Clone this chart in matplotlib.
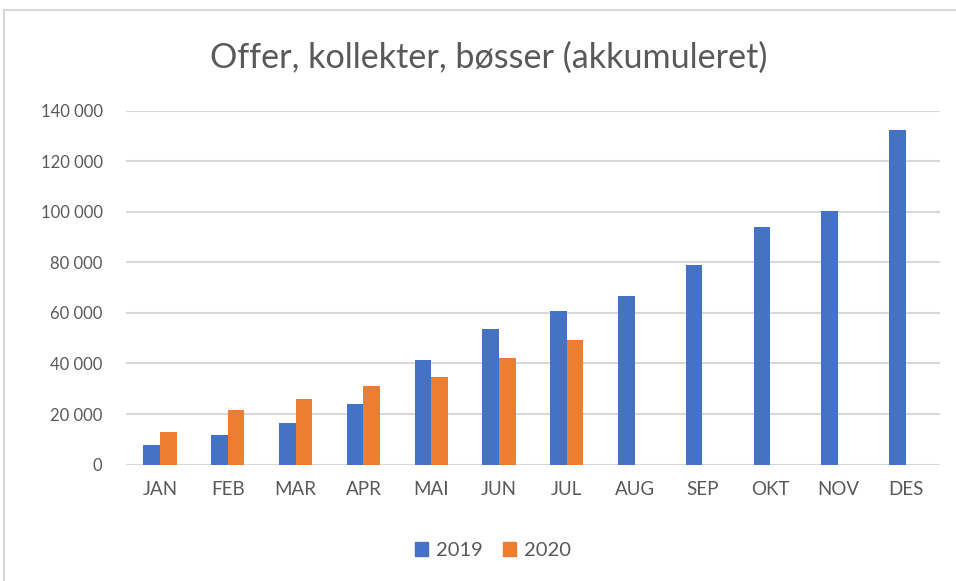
import numpy as np
import matplotlib.pyplot as plt
from matplotlib.lines import Line2D
from matplotlib.patches import Patch

# data
months = ['JAN', 'FEB', 'MAR', 'APR', 'MAI', 'JUN', 'JUL', 'AUG', 'SEP', 'OKT', 'NOV', 'DES']
values_2019 = [7700, 11800, 16300, 24000, 41300, 53600, 60600, 66700, 79000, 93900, 100400, 132600]
values_2020 = [12700, 21400, 26000, 31100, 34600, 42300, 49400]
yticks = [0, 20000, 40000, 60000, 80000, 100000, 120000, 140000]

blue = '#4472C4'
orange = '#ED7D31'
text_col = '#595959'
grid_col = '#D9D9D9'

plt.rcParams['font.family'] = ['Lato', 'DejaVu Sans']

fig = plt.figure(figsize=(9.56, 5.81), dpi=100)
ax = fig.add_axes([0.132, 0.2005, 0.851, 0.6085])

x = np.arange(len(months))
w = 0.245
ax.bar(x - w / 2, values_2019, w, color=blue, label='2019', zorder=3)
ax.bar(np.arange(len(values_2020)) + w / 2, values_2020, w, color=orange, label='2020', zorder=3)

ax.set_xlim(-0.5, len(months) - 0.5)
ax.set_ylim(0, 140000)
ax.set_yticks(yticks)
ax.set_yticklabels([f'{v:,}'.replace(',', ' ') for v in yticks])
ax.set_xticks(x)
ax.set_xticklabels(months)
ax.tick_params(axis='both', length=0, colors=text_col)
ax.tick_params(axis='y', pad=17, labelsize=12)
ax.tick_params(axis='x', pad=12, labelsize=13.5)

for v in yticks:
    ax.axhline(v, color=grid_col, lw=1.5, zorder=1)
for s in ax.spines.values():
    s.set_visible(False)

fig.text(0.511, 0.9, 'Offer, kollekter, bøsser (akkumuleret)', ha='center', va='center',
         fontsize=24.6, color=text_col)

handles = [Patch(color=blue), Patch(color=orange)]
fig.legend(handles, ['2019', '2020'], loc='center', bbox_to_anchor=(0.516, 0.052), ncol=2,
           frameon=False, fontsize=14.5, labelcolor=text_col, handlelength=0.65, handleheight=0.65,
           handletextpad=0.4, columnspacing=1.0)

# chart border (top and left edges are visible in the crop)
fig.add_artist(Line2D([4 / 956, 4 / 956], [0, 1 - 10 / 581], color='#D9D9D9', lw=1.5))
fig.add_artist(Line2D([4 / 956, 1], [1 - 10 / 581, 1 - 10 / 581], color='#D9D9D9', lw=1.5))

fig.savefig('out.png', dpi=100)
